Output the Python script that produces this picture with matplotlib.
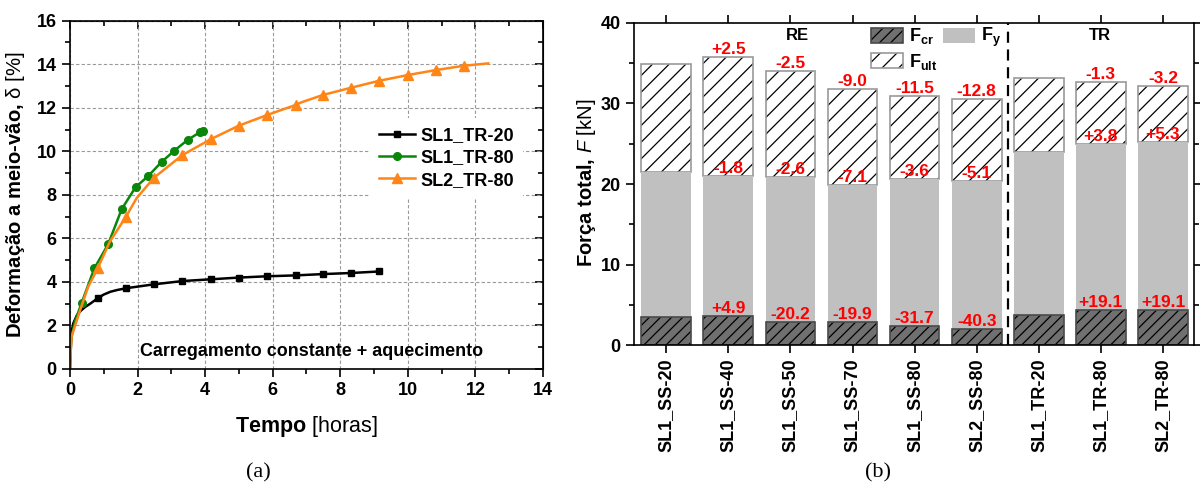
import numpy as np
import matplotlib
matplotlib.use('Agg')
from matplotlib import pyplot as plt
from matplotlib.ticker import MultipleLocator
from matplotlib.patches import Patch
from matplotlib.legend_handler import HandlerTuple

plt.rcParams['font.family'] = 'Liberation Sans'
plt.rcParams['mathtext.fontset'] = 'custom'
plt.rcParams['mathtext.rm'] = 'Liberation Sans'
plt.rcParams['mathtext.it'] = 'Liberation Sans:italic'
plt.rcParams['mathtext.bf'] = 'Liberation Sans:bold'
plt.rcParams['hatch.linewidth'] = 0.9

# --- (a) creep curves
t_tr20 = [0, 0.01, 0.03, 0.06, 0.1, 0.2, 0.3, 0.45, 0.6, 0.82, 1.0, 1.2, 1.4, 1.66,
          2.49, 3.33, 4.16, 5.0, 5.84, 6.68, 7.49, 8.32, 9.15]
d_tr20 = [0, 0.8, 1.4, 1.8, 2.1, 2.45, 2.65, 2.85, 3.0, 3.25, 3.42, 3.55, 3.63, 3.71,
          3.89, 4.04, 4.12, 4.2, 4.26, 4.3, 4.36, 4.41, 4.48]
mk_tr20 = [9, 13, 14, 15, 16, 17, 18, 19, 20, 21, 22]

t_tr80 = [0, 0.02, 0.05, 0.15, 0.35, 0.72, 1.13, 1.53, 1.94, 2.32, 2.71, 3.09, 3.48,
          3.85, 3.93, 4.0]
d_tr80 = [0, 0.8, 1.5, 2.2, 3.05, 4.62, 5.73, 7.34, 8.35, 8.87, 9.51, 10.03, 10.52,
          10.88, 10.93, 10.97]
mk_tr80 = [4, 5, 6, 7, 8, 9, 10, 11, 12, 13, 14]

t_sl2 = [0, 0.02, 0.05, 0.3, 0.54, 0.82, 1.18, 1.66, 1.97, 2.22, 2.49, 3.33, 4.16,
         5.0, 5.84, 6.68, 6.85, 7.49, 8.32, 9.15, 9.99, 10.82, 11.66, 12.38]
d_sl2 = [0, 0.8, 1.5, 2.7, 3.78, 4.62, 5.85, 7.0, 7.84, 8.3, 8.79, 9.83, 10.55,
         11.18, 11.67, 12.13, 12.25, 12.59, 12.92, 13.24, 13.5, 13.73, 13.93, 14.04]
mk_sl2 = [5, 7, 10, 11, 12, 13, 14, 15, 17, 18, 19, 20, 21, 22]

# --- (b) forces
names = ['SL1_SS-20', 'SL1_SS-40', 'SL1_SS-50', 'SL1_SS-70', 'SL1_SS-80',
         'SL2_SS-80', 'SL1_TR-20', 'SL1_TR-80', 'SL2_TR-80']
f_cr = [3.55, 3.71, 2.85, 2.85, 2.47, 2.1, 3.83, 4.45, 4.45]
f_y = [21.44, 21.03, 20.9, 19.9, 20.6, 20.4, 24.0, 25.0, 25.2]
f_ult = [34.93, 35.8, 34.0, 31.8, 30.9, 30.5, 33.1, 32.7, 32.1]
lab_ult = ['', '+2.5', '-2.5', '-9.0', '-11.5', '-12.8', '', '-1.3', '-3.2']
lab_y = ['', '-1.8', '-2.6', '-7.1', '-3.6', '-5.1', '', '+3.8', '+5.3']
lab_cr = ['', '+4.9', '-20.2', '-19.9', '-31.7', '-40.3', '', '+19.1', '+19.1']

fig = plt.figure(figsize=(12, 4.87), dpi=100)

# ================= (a)
ax = fig.add_axes([0.0583, 0.2423, 0.3942, 0.7152])
ax.plot(t_tr20, d_tr20, '-s', color='black', lw=1.8, ms=5, markevery=mk_tr20,
        label='SL1_TR-20')
ax.plot(t_tr80, d_tr80, '-o', color='#0a870a', lw=1.8, ms=5.5, markevery=mk_tr80,
        label='SL1_TR-80')
ax.plot(t_sl2, d_sl2, '-^', color='#ff8516', lw=1.8, ms=7, markevery=mk_sl2,
        label='SL2_TR-80')
ax.set_xlim(0, 14)
ax.set_ylim(0, 16)
ax.xaxis.set_major_locator(MultipleLocator(2))
ax.xaxis.set_minor_locator(MultipleLocator(1))
ax.yaxis.set_major_locator(MultipleLocator(2))
ax.yaxis.set_minor_locator(MultipleLocator(1))
ax.grid(True, which='major', ls=(0, (3, 2)), lw=0.8, color='#999999')
ax.tick_params(which='both', direction='out', width=1.2, labelsize=13)
ax.tick_params(which='major', length=6)
ax.tick_params(which='minor', length=3.5)
for lbl in ax.get_xticklabels() + ax.get_yticklabels():
    lbl.set_fontweight('bold')
for s in ax.spines.values():
    s.set_linewidth(1.2)

sx = ax.secondary_xaxis('top')
sx.xaxis.set_major_locator(MultipleLocator(2))
sx.xaxis.set_minor_locator(MultipleLocator(1))
sx.tick_params(which='both', direction='in', labeltop=False, width=1.2)
sx.tick_params(which='major', length=6)
sx.tick_params(which='minor', length=3.5)
sy = ax.secondary_yaxis('right')
sy.yaxis.set_major_locator(MultipleLocator(2))
sy.yaxis.set_minor_locator(MultipleLocator(1))
sy.tick_params(which='both', direction='in', labelright=False, width=1.2)
sy.tick_params(which='major', length=6)
sy.tick_params(which='minor', length=3.5)

ax.set_xlabel(r'Tempo $\mathrm{[horas]}$', fontsize=15.5, fontweight='bold')
ax.xaxis.set_label_coords(0.5, -0.13)
ax.set_ylabel(r'Deformação a meio-vão, $\mathrm{\delta}$ $\mathrm{[\%]}$',
              fontsize=14.6, fontweight='bold')
ax.yaxis.set_label_coords(-0.09, 0.5)
ax.text(7.14, 0.8, 'Carregamento constante + aquecimento', ha='center', va='center',
        fontsize=12.9, fontweight='bold')
leg = ax.legend(loc='upper left', bbox_to_anchor=(0.634, 0.721), borderaxespad=0,
                prop={'weight': 'bold', 'size': 13}, handlelength=2.0,
                handletextpad=0.3, labelspacing=0.3, borderpad=0.5,
                frameon=True, fancybox=False, framealpha=1)
leg.get_frame().set_edgecolor('none')

# ================= (b)
bx = fig.add_axes([0.5283, 0.2906, 0.4667, 0.6628])
x = np.arange(len(names))
w = 0.8
up = np.subtract(f_ult, f_y)
mid = np.subtract(f_y, f_cr)
bx.bar(x, up, w, bottom=f_y, color='white', edgecolor='black', linewidth=0,
       hatch='//')
bx.bar(x, up, w, bottom=f_y, fill=False, edgecolor='#9a9a9a', linewidth=1.2)
bx.bar(x, mid, w, bottom=f_cr, color='#c0c0c0', linewidth=0)
bx.bar(x, f_cr, w, color='#707070', edgecolor='black', linewidth=0, hatch='///')
bx.bar(x, f_cr, w, fill=False, edgecolor='#4a4a4a', linewidth=1.2)

for i in range(len(names)):
    for val, txt in ((f_ult[i], lab_ult[i]), (f_y[i], lab_y[i]), (f_cr[i], lab_cr[i])):
        if txt:
            bx.annotate(txt, (x[i], val), xytext=(0, 0), textcoords='offset points',
                        ha='center', va='bottom', color='#ff0000',
                        fontsize=12.5, fontweight='bold')

bx.axvline(5.5, color='black', lw=1.6, ls=(0, (5, 3)))
bx.text(2.12, 38.4, 'RE', ha='center', va='center', fontsize=12, fontweight='bold')
bx.text(6.99, 38.4, 'TR', ha='center', va='center', fontsize=12, fontweight='bold')

bx.set_xlim(-0.52, 8.5)
bx.set_ylim(0, 40)
bx.set_xticks(x)
bx.set_xticklabels(names, rotation=90, fontsize=13, fontweight='bold')
bx.yaxis.set_major_locator(MultipleLocator(10))
bx.yaxis.set_minor_locator(MultipleLocator(5))
bx.tick_params(which='both', direction='out', top=True, right=True, width=1.2)
bx.tick_params(axis='y', labelsize=13)
bx.tick_params(which='major', length=6)
bx.tick_params(which='minor', length=3.5)
for lbl in bx.get_yticklabels():
    lbl.set_fontweight('bold')
for s in bx.spines.values():
    s.set_linewidth(1.2)
bx.set_ylabel(r'Força total, $F$ $\mathrm{[kN]}$', fontsize=14.5, fontweight='bold')
bx.yaxis.set_label_coords(-0.064, 0.503)

h_cr = (Patch(facecolor='#707070', edgecolor='black', linewidth=0, hatch='///'),
        Patch(fill=False, edgecolor='#4a4a4a', linewidth=1.2))
h_y = Patch(facecolor='#c0c0c0', linewidth=0)
h_ult = (Patch(facecolor='white', edgecolor='black', linewidth=0, hatch='//'),
         Patch(fill=False, edgecolor='#9a9a9a', linewidth=1.2))
bx.legend([h_cr, h_ult, h_y], [r'F$_\mathbf{cr}$', r'F$_\mathbf{ult}$', r'F$_\mathbf{y}$'],
          handler_map={tuple: HandlerTuple(ndivide=1)}, ncol=2,
          loc='upper left', bbox_to_anchor=(0.42, 0.995), borderaxespad=0,
          borderpad=0.1, frameon=False, prop={'weight': 'bold', 'size': 13},
          handlelength=1.8, handleheight=0.9, handletextpad=0.3,
          columnspacing=0.3, labelspacing=0.3)

fig.text(258 / 1200, 1 - 473 / 487, '(a)', family='Liberation Serif', fontsize=16,
         ha='center', va='center')
fig.text(878 / 1200, 1 - 473 / 487, '(b)', family='Liberation Serif', fontsize=16,
         ha='center', va='center')

fig.savefig('out.png', dpi=100)
